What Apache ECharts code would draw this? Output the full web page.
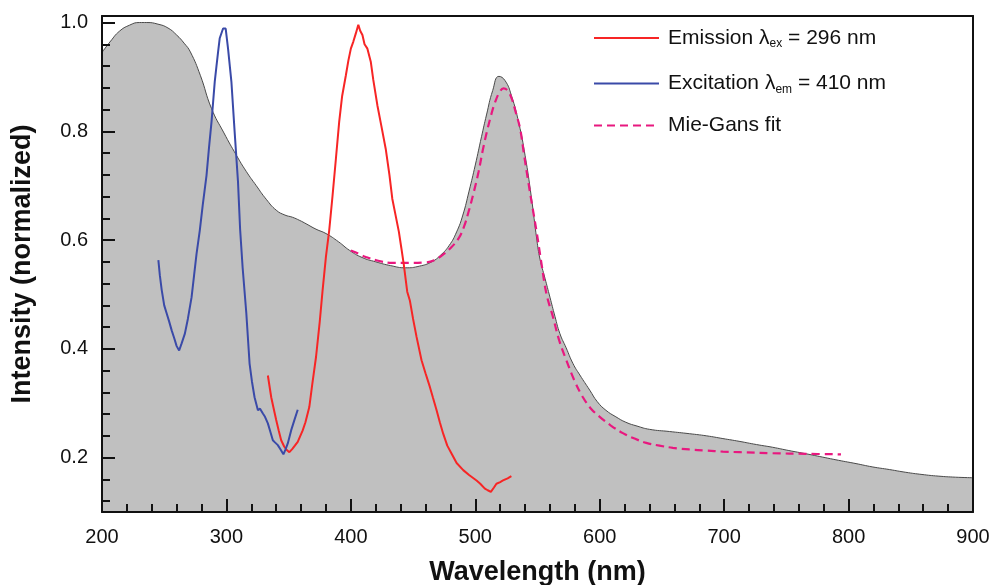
<!DOCTYPE html>
<html>
<head>
<meta charset="utf-8">
<script src="https://cdn.jsdelivr.net/npm/echarts@6/dist/echarts.min.js"></script>
<style>
html,body{margin:0;padding:0;background:#fff;}
#chart{width:994px;height:585px;}
</style>
</head>
<body>
<div id="chart"></div>
<script>
// ---- data ----
var absorbanceX = [200,207,214,222,230,236,245,253,260,266,271,279,288,298,308,316,324,332,340,347,353,359,364,372,380,390,399,409,420,432,444,455,465,472,479,485,490,495,500,505,509,514,519,524,529,535,540,545,549.5,552,556,560,564,568,573,578.5,584,592,598,605,613,621,630,640,656,672,686,699,712,726,739,752,766,779,792,806,819,833,846,859,872,886,900];
var absorbanceY = [0.945,0.966,0.984,0.995,1.0,1.0,0.997,0.99,0.977,0.962,0.946,0.903,0.842,0.797,0.756,0.726,0.70,0.675,0.655,0.646,0.642,0.636,0.630,0.620,0.612,0.597,0.581,0.568,0.560,0.553,0.549,0.552,0.560,0.572,0.590,0.615,0.646,0.690,0.738,0.790,0.830,0.875,0.901,0.893,0.866,0.815,0.756,0.680,0.600,0.565,0.530,0.495,0.460,0.428,0.402,0.373,0.352,0.324,0.303,0.287,0.275,0.265,0.258,0.252,0.248,0.244,0.240,0.235,0.230,0.224,0.219,0.213,0.207,0.201,0.195,0.189,0.183,0.178,0.173,0.169,0.166,0.164,0.163];

var excitationX = [245.3,246.5,248,250,252,254,256,258,260,262,264,266.6,269,272,274,276,278.6,281,284,286,288,290.6,292,293.3,294.6,296,297.3,299.4,301.3,304,306.6,309.3,311,313,316,318.6,320.5,322.6,325.3,327,329.3,331,333.3,335,337.3,339,341.3,343.5,345.8,347.5,349.3,352,354.6,357.3];
var excitationY = [0.563,0.535,0.508,0.48,0.465,0.45,0.434,0.42,0.405,0.397,0.41,0.428,0.455,0.495,0.535,0.575,0.618,0.665,0.719,0.77,0.817,0.891,0.92,0.946,0.971,0.972,0.989,0.989,0.952,0.891,0.799,0.707,0.62,0.55,0.465,0.373,0.34,0.311,0.287,0.29,0.281,0.275,0.263,0.25,0.232,0.228,0.223,0.215,0.206,0.215,0.226,0.25,0.269,0.288];

var emissionX = [333.3,336,338,340,342,344,346.5,348.5,350.6,353,355,357.3,361.3,363.5,366.6,369,372,375,377.3,380,382.6,385.3,388,390.6,393,396,398,400,402,404,406,407.5,409.3,411,413.3,416,418,421.3,424.5,428,431,433.3,436,438.6,440.6,442.6,445.3,447.4,450,452.8,456.8,460,463.5,466,468.9,471.5,474.2,477.5,481,485,490.3,495,501,504,507.7,510,512.5,515,517,520,522.3,526,529];
var emissionY = [0.351,0.311,0.29,0.269,0.25,0.232,0.22,0.214,0.21,0.216,0.222,0.229,0.25,0.265,0.293,0.335,0.385,0.45,0.508,0.57,0.618,0.682,0.75,0.817,0.865,0.903,0.93,0.952,0.965,0.98,0.996,0.985,0.977,0.96,0.952,0.928,0.895,0.848,0.81,0.768,0.72,0.676,0.645,0.615,0.585,0.554,0.505,0.489,0.455,0.422,0.379,0.355,0.33,0.31,0.287,0.265,0.244,0.222,0.207,0.19,0.177,0.168,0.158,0.152,0.143,0.14,0.137,0.145,0.152,0.155,0.158,0.162,0.166];

var fitX = [400,406,412,422,433.3,446,460,467,473.3,480,486.6,491,494.6,499,502.6,506,509.3,513,516,519.5,522.6,526,529.3,532.5,536,539,542.6,546,549.3,553,557.3,562.4,567.5,573.2,580,586.5,593,600,609,618.6,628,637.4,648,658.8,672,685.6,699,712.3,739,765.8,793.9];
var fitY = [0.581,0.575,0.569,0.562,0.558,0.558,0.559,0.563,0.572,0.585,0.603,0.625,0.652,0.69,0.725,0.765,0.799,0.832,0.854,0.872,0.879,0.875,0.86,0.835,0.805,0.76,0.707,0.66,0.615,0.56,0.5,0.459,0.415,0.379,0.34,0.311,0.29,0.275,0.259,0.245,0.235,0.227,0.222,0.218,0.215,0.213,0.211,0.21,0.208,0.207,0.206];

var yMajorTicks = [0.2,0.4,0.6,0.8,1.0];
var yMinorTicks = [0.12,0.16,0.24,0.28,0.32,0.36,0.44,0.48,0.52,0.56,0.64,0.68,0.72,0.76,0.84,0.88,0.92,0.96];

var legendNames = ['Emission', 'Excitation', 'Mie-Gans fit'];

function pairs(xs, ys){ return xs.map(function(x,i){ return [x, ys[i]]; }); }

var FONT = '"Liberation Sans", Arial, sans-serif';
var chart = echarts.init(document.getElementById('chart'), null, {renderer:'canvas'});

var option = {
  backgroundColor: '#fff',
  animation: false,
  textStyle: {fontFamily: FONT},
  grid: {left: 102, right: 21, top: 16, bottom: 73, containLabel: false, outerBoundsMode: 'none'},
  legend: {
    orient: 'vertical',
    left: 593, top: 24, padding: 0,
    itemWidth: 65, itemHeight: 14, itemGap: 19.5,
    itemStyle: {opacity: 0},
    data: legendNames,
    textStyle: {
      fontFamily: FONT, fontSize: 21, color: '#111',
      rich: {
        f: {fontFamily: FONT, fontSize: 21, color: '#111', lineHeight: 24, padding: [0,0,0,4]},
        t: {fontFamily: FONT, fontSize: 21, color: '#111', lineHeight: 24},
        s: {fontFamily: FONT, fontSize: 12, color: '#111', lineHeight: 24, verticalAlign: 'bottom', padding: [14,0,0,0]}
      }
    },
    formatter: function(name){
      if (name === 'Emission') return '{f|Emission λ}{s|ex}{t| = 296 nm}';
      if (name === 'Excitation') return '{f|Excitation λ}{s|em}{t| = 410 nm}';
      return '{f|Mie-Gans fit}';
    }
  },
  xAxis: [{
    type: 'value', min: 200, max: 900, interval: 100, position: 'bottom', z: 10,
    name: 'Wavelength (nm)', nameLocation: 'middle', nameGap: 47,
    nameTextStyle: {fontFamily: FONT, fontSize: 27, fontWeight: 'bold', color: '#111'},
    axisLine: {show: true, onZero: false, lineStyle: {color: '#111', width: 2}},
    axisTick: {show: true, inside: true, length: 13, lineStyle: {color: '#111', width: 2}},
    minorTick: {show: true, splitNumber: 5, length: 8, lineStyle: {color: '#111', width: 2}},
    axisLabel: {show: true, margin: 15, fontFamily: FONT, fontSize: 20, color: '#111'},
    splitLine: {show: false}
  }, {
    type: 'value', min: 200, max: 900, position: 'top', z: 10,
    axisLine: {show: true, onZero: false, lineStyle: {color: '#111', width: 2}},
    axisTick: {show: false}, axisLabel: {show: false}, splitLine: {show: false}
  }],
  yAxis: [{
    type: 'value', min: 0.1, max: 1.012, position: 'left', z: 10,
    name: 'Intensity (normalized)', nameLocation: 'middle', nameGap: 66, nameRotate: 90,
    nameTextStyle: {fontFamily: FONT, fontSize: 27, fontWeight: 'bold', color: '#111'},
    axisLine: {show: true, onZero: false, lineStyle: {color: '#111', width: 2}},
    axisTick: {show: true, inside: true, length: 13, customValues: yMajorTicks, lineStyle: {color: '#111', width: 2}},
    axisLabel: {show: true, margin: 14, customValues: yMajorTicks, fontFamily: FONT, fontSize: 20, color: '#111',
      formatter: function(v){ return v.toFixed(1); }},
    splitLine: {show: false}
  }, {
    type: 'value', min: 0.1, max: 1.012, position: 'left', z: 10,
    axisLine: {show: false},
    axisTick: {show: true, inside: true, length: 8, customValues: yMinorTicks, lineStyle: {color: '#111', width: 2}},
    axisLabel: {show: false}, splitLine: {show: false}
  }, {
    type: 'value', min: 0.1, max: 1.012, position: 'right', z: 10,
    axisLine: {show: true, onZero: false, lineStyle: {color: '#111', width: 2}},
    axisTick: {show: false}, axisLabel: {show: false}, splitLine: {show: false}
  }],
  series: [{
    name: 'Absorbance', type: 'line', xAxisIndex: 0, yAxisIndex: 0,
    data: pairs(absorbanceX, absorbanceY), smooth: 0.5, symbol: 'none', z: 1,
    lineStyle: {color: '#4a4a4a', width: 1},
    areaStyle: {color: '#c0c0c0', opacity: 1, origin: 'start'}
  }, {
    name: 'Emission', type: 'line', xAxisIndex: 0, yAxisIndex: 0,
    data: pairs(emissionX, emissionY), symbol: 'none', z: 3,
    itemStyle: {color: '#f72525'},
    lineStyle: {color: '#f72525', width: 2}
  }, {
    name: 'Excitation', type: 'line', xAxisIndex: 0, yAxisIndex: 0,
    data: pairs(excitationX, excitationY), symbol: 'none', z: 3,
    itemStyle: {color: '#3a4aa8'},
    lineStyle: {color: '#3a4aa8', width: 2}
  }, {
    name: 'Mie-Gans fit', type: 'line', xAxisIndex: 0, yAxisIndex: 0,
    data: pairs(fitX, fitY), smooth: 0.4, symbol: 'none', z: 2,
    itemStyle: {color: '#e8187f'},
    lineStyle: {color: '#e8187f', width: 2.2, type: [8, 5]}
  }]
};
chart.setOption(option);
</script>
</body>
</html>
